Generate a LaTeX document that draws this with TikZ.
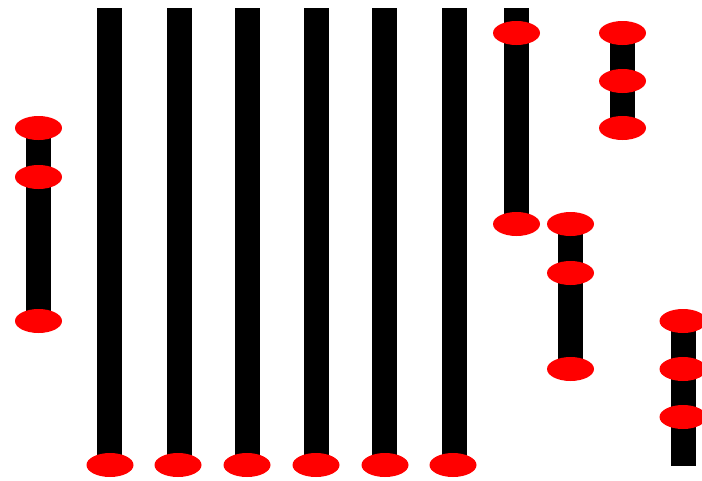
\documentclass[tikz,border=0pt]{standalone}
\usetikzlibrary{shapes.geometric,backgrounds}

\begin{document}
\begin{tikzpicture}[x=1pt,y=-1pt]  % <-- pixel units, y down

\tikzset{
knob/.style={
ellipse,
fill=red,
minimum width=47pt,
minimum height=24pt,
inner sep=0pt
},
rod/.style={
draw=black,
line width=25pt
}
}

\useasboundingbox (0,0) rectangle (702,480);

%----------------------------------
% LEFT ROD
%----------------------------------

\node[knob] (l1) at (38.5,128) {};
\node[knob] (l2) at (38.5,177) {};
\node[knob] (l3) at (38.5,321) {};

%----------------------------------
% LONG RODS
%----------------------------------

\coordinate (t1) at (109.5,8);
\coordinate (t2) at (179,8);
\coordinate (t3) at (247.5,8);
\coordinate (t4) at (316,8);
\coordinate (t5) at (384.5,8);
\coordinate (t6) at (454,8);

\node[knob] (b1) at (110,465) {};
\node[knob] (b2) at (178,465) {};
\node[knob] (b3) at (247,465) {};
\node[knob] (b4) at (316,465) {};
\node[knob] (b5) at (385,465) {};
\node[knob] (b6) at (453,465) {};

%----------------------------------
% RIGHT RODS
%----------------------------------

\coordinate (r1top) at (516.5,8);
\node[knob] (r1a) at (516.5,33) {};
\node[knob] (r1b) at (516.5,224) {};

\node[knob] (r2a) at (622.5,33) {};
\node[knob] (r2b) at (622.5,81) {};
\node[knob] (r2c) at (622.5,128) {};

\node[knob] (r3a) at (570.5,224) {};
\node[knob] (r3b) at (570.5,273) {};
\node[knob] (r3c) at (570.5,369) {};

\node[knob] (r4a) at (683,321) {};
\node[knob] (r4b) at (683,369) {};
\node[knob] (r4c) at (683,417) {};
\coordinate (r4end) at (683,466);

%----------------------------------
% RODS BEHIND THE KNOBS
%----------------------------------

\begin{scope}[on background layer]
\draw[rod] (l1.center) -- (l3.center);

\draw[rod] (t1) -- (t1 |- b1.center);
\draw[rod] (t2) -- (t2 |- b2.center);
\draw[rod] (t3) -- (t3 |- b3.center);
\draw[rod] (t4) -- (t4 |- b4.center);
\draw[rod] (t5) -- (t5 |- b5.center);
\draw[rod] (t6) -- (t6 |- b6.center);

\draw[rod] (r1top) -- (r1b.center);
\draw[rod] (r2a.center) -- (r2c.center);
\draw[rod] (r3a.center) -- (r3c.center);
\draw[rod] (r4a.center) -- (r4end);
\end{scope}

\end{tikzpicture}
\end{document}
